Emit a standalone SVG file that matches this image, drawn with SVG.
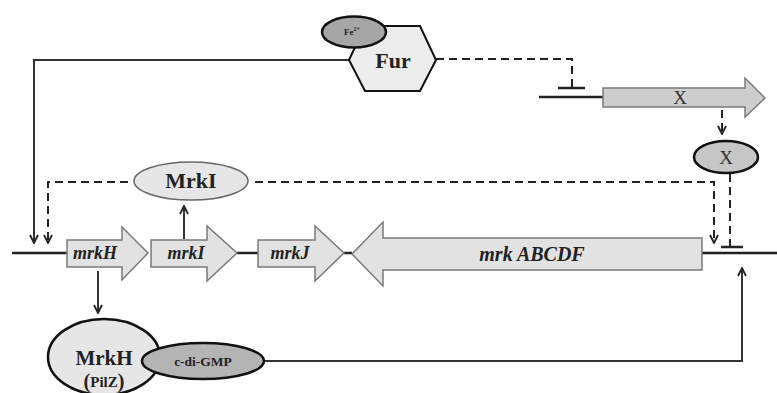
<svg xmlns="http://www.w3.org/2000/svg" width="777" height="393" viewBox="0 0 777 393">
<defs>
<style>
.bb{stroke:#222;stroke-width:2.5;fill:none}
.sol{stroke:#333;stroke-width:2;fill:none}
.dsh{stroke:#222;stroke-width:2;fill:none;stroke-dasharray:8,5}
.gene{fill:#e2e2e2;stroke:#7a7a7a;stroke-width:1.5}
.gl{font-family:"Liberation Serif",serif;font-style:italic;font-weight:bold;fill:#222;text-anchor:middle}
.lb{font-family:"Liberation Serif",serif;font-weight:bold;fill:#222;text-anchor:middle}
.bar{stroke:#222;stroke-width:2.5}
</style>
<marker id="arr" viewBox="0 0 10 10" refX="9" refY="5" markerWidth="10" markerHeight="10" markerUnits="userSpaceOnUse" orient="auto">
<path d="M1,1 L9,5 L1,9" fill="none" stroke="#222" stroke-width="1.8"/>
</marker>
</defs>
<rect width="777" height="393" fill="#fff"/>

<g id="backbone">
<line class="bb" x1="12" y1="253" x2="68" y2="253"/>
<line class="bb" x1="237" y1="253" x2="258" y2="253"/>
<line class="bb" x1="344" y1="253" x2="352" y2="253"/>
<line class="bb" x1="702" y1="253" x2="777" y2="253"/>
<line class="bb" x1="539" y1="97" x2="603" y2="97"/>
</g>

<g id="connectors">
<path class="sol" d="M349,60 H34 V243" marker-end="url(#arr)"/>
<path class="dsh" d="M128,182 H48 V243" marker-end="url(#arr)"/>
<path class="dsh" d="M255,182 H714 V243" marker-end="url(#arr)"/>
<path class="sol" d="M184,239 V206" marker-end="url(#arr)"/>
<path class="sol" d="M98,271 V313" marker-end="url(#arr)"/>
<path class="sol" d="M264,361 H742 V268" marker-end="url(#arr)"/>
<path class="dsh" d="M436,59 H572 V87"/>
<line class="bar" x1="558" y1="88" x2="585" y2="88"/>
<path class="dsh" d="M722,110 V134" marker-end="url(#arr)"/>
<path class="dsh" d="M730,174 V246"/>
<line class="bar" x1="721" y1="247" x2="743" y2="247"/>
</g>

<g id="mrkH">
<path class="gene" d="M67,240 H122 V227 L148,253 L122,280 V267 H67 Z"/>
<text class="gl" x="95" y="259" font-size="18">mrkH</text>
</g>
<g id="mrkI">
<path class="gene" d="M151,240 H207 V226 L237,253 L207,281 V267 H151 Z"/>
<text class="gl" x="186" y="259" font-size="18">mrkI</text>
</g>
<g id="mrkJ">
<path class="gene" d="M258,240 H315 V226 L344,253 L315,281 V267 H258 Z"/>
<text class="gl" x="290" y="259" font-size="18">mrkJ</text>
</g>
<g id="mrkABCDF">
<path class="gene" d="M702,238 H383 V222 L352,254 L383,286 V270 H702 Z" fill="#dcdcdc"/>
<text class="gl" x="532" y="261" font-size="20">mrk ABCDF</text>
</g>
<g id="Xgene">
<path d="M603,88 H745 V78 L765,98 L745,117 V107 H603 Z" fill="#cdcdcd" stroke="#7a7a7a" stroke-width="1.5"/>
<text x="680" y="104" font-family="Liberation Serif,serif" font-size="19" fill="#333" text-anchor="middle">X</text>
</g>

<g id="Fur">
<polygon points="349,60 365,26 420,26 436,60 420,91 365,91" fill="#ececec" stroke="#111" stroke-width="2"/>
<text class="lb" x="393" y="68" font-size="22">Fur</text>
</g>
<g id="Fe">
<ellipse cx="354" cy="32" rx="32" ry="15.5" fill="#a6a6a6" stroke="#111" stroke-width="2.5"/>
<text class="lb" x="352" y="35" font-size="9">Fe<tspan font-size="6" dy="-4">2+</tspan></text>
</g>

<g id="MrkI">
<ellipse cx="191" cy="181" rx="57" ry="19" fill="#e6e6e6" stroke="#666" stroke-width="1.5"/>
<text class="lb" x="191" y="188" font-size="22">MrkI</text>
</g>

<g id="Xprot">
<ellipse cx="726" cy="157" rx="32" ry="16" fill="#c6c6c6" stroke="#111" stroke-width="2.5"/>
<text x="726" y="164" font-family="Liberation Serif,serif" font-size="19" fill="#333" text-anchor="middle">X</text>
</g>

<g id="MrkH">
<ellipse cx="104" cy="357" rx="56" ry="38" fill="#e6e6e6" stroke="#111" stroke-width="2.5"/>
<text class="lb" x="104" y="365" font-size="21">MrkH</text>
<text class="lb" x="104" y="388" font-size="20">(<tspan font-size="15" dy="-1">PilZ</tspan><tspan dy="1">)</tspan></text>
</g>
<g id="cdiGMP">
<ellipse cx="203" cy="361" rx="61" ry="18" fill="#b4b4b4" stroke="#111" stroke-width="2.5"/>
<text class="lb" x="203" y="365.5" font-size="13.5">c-di-GMP</text>
</g>
</svg>
